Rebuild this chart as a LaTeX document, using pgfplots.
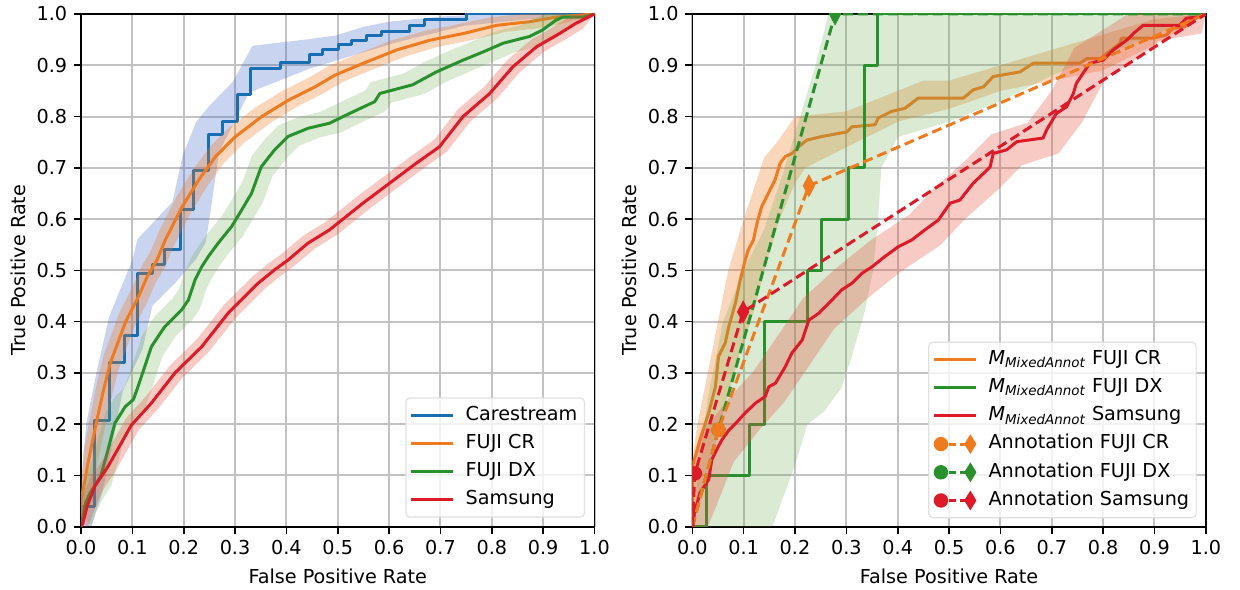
\documentclass[border=0pt]{standalone}
\usepackage{fontspec}
\setmainfont{DejaVu Sans}
\usepackage{pgfplots}
\pgfplotsset{compat=1.18}

\definecolor{cblue}{RGB}{23,110,178}
\definecolor{corange}{RGB}{240,122,30}
\definecolor{cgreen}{RGB}{40,145,45}
\definecolor{cred}{RGB}{222,25,40}
\definecolor{fblue}{RGB}{60,100,200}
\definecolor{forange}{RGB}{240,120,30}
\definecolor{fgreen}{RGB}{110,170,80}
\definecolor{fred}{RGB}{230,80,60}

\pgfplotsset{
  rocaxis/.style={
    scale only axis, width=256.75pt, height=256.35pt,
    xmin=0, xmax=1, ymin=0, ymax=1,
    xtick={0,0.1,0.2,0.3,0.4,0.5,0.6,0.7,0.8,0.9,1},
    ytick={0,0.1,0.2,0.3,0.4,0.5,0.6,0.7,0.8,0.9,1},
    xticklabels={0.0,0.1,0.2,0.3,0.4,0.5,0.6,0.7,0.8,0.9,1.0},
    yticklabels={0.0,0.1,0.2,0.3,0.4,0.5,0.6,0.7,0.8,0.9,1.0},
    tick pos=left, tick align=outside, major tick length=3.5pt,
    tick style={black, line width=0.8pt},
    axis line style={line width=0.8pt},
    grid=major, major grid style={line width=1pt, color=black!24},
    xlabel={False Positive Rate}, ylabel={True Positive Rate},
    xlabel style={at={(axis description cs:0.5,-0.096)}, anchor=center},
    ylabel style={at={(axis description cs:-0.1227,0.5)}, anchor=center},
    clip marker paths=true,
    legend cell align=left,
    legend image code/.code={\draw[##1] (0pt,0pt) -- (20.85pt,0pt);},
    legend style={anchor=south east, draw=black!12, line width=0.6pt,
      rounded corners=2pt, fill=white, fill opacity=0.8, text opacity=1,
      inner xsep=2pt, inner ysep=2.5pt, row sep=1.9pt,
      nodes={inner sep=1.5pt, text height=7pt, text depth=2.2pt},
      /tikz/every odd column/.append style={column sep=4pt}},
  },
  band/.style={draw=none, fill=#1, forget plot},
  curve/.style={color=#1, line width=1.5pt, line join=round},
  annot/.style={color=#1, line width=1.5pt, dash pattern=on 5pt off 2.5pt, forget plot},
  opmark/.style={only marks, color=#1, forget plot, mark=*, mark size=3.4pt},
  opdiam/.style={only marks, color=#1, forget plot, mark=diamond*, mark size=5.4pt,
    mark options={xscale=0.7, sharp corners}},
}

\newcommand{\annotimg}[1]{\addlegendimage{legend image code/.code={%
  \draw[#1, draw opacity=1, line width=1.5pt, dash pattern=on 3.5pt off 2pt] (2pt,0pt) -- (18pt,0pt);
  \fill[#1, fill opacity=1] (3.3pt,0pt) circle (3.3pt);
  \fill[#1, fill opacity=1, sharp corners] (18pt,4.4pt) -- (20.7pt,0pt) -- (18pt,-4.4pt) -- (15.3pt,0pt) -- cycle;}}}

\begin{document}
\fontsize{9.6pt}{11.5pt}\selectfont
\begin{tikzpicture}

% ---------------- left panel ----------------
\begin{axis}[rocaxis, at={(40.5pt,31.15pt)}, anchor=south west,
  legend style={at={(0.9815,0.0176)}}]

\addplot[band=fblue, fill opacity=0.28] coordinates {
 (0,0.07) (0.01,0.2) (0.03,0.30) (0.055,0.41) (0.1,0.52) (0.11,0.561)
 (0.178,0.633) (0.198,0.724) (0.224,0.789) (0.25,0.821) (0.295,0.867)
 (0.334,0.938) (0.444,0.951) (0.496,0.958) (0.55,0.975) (0.6,0.985)
 (0.7,0.995) (0.8,1) (1,1)
 (0.875,0.99) (0.746,0.977) (0.616,0.945) (0.486,0.906) (0.444,0.893)
 (0.379,0.867) (0.327,0.847) (0.295,0.782) (0.269,0.731) (0.25,0.6) (0.243,0.555)
 (0.224,0.522) (0.185,0.477) (0.139,0.431) (0.12,0.347) (0.081,0.263)
 (0.068,0.197) (0.042,0.068) (0.029,0.029) (0.02,0) (0,0)};
\addplot[curve=cblue] coordinates {
 (0,0) (0,0.04) (0.027,0.04) (0.027,0.207) (0.056,0.207) (0.056,0.32)
 (0.084,0.32) (0.084,0.372) (0.11,0.372) (0.11,0.494) (0.139,0.494)
 (0.139,0.511) (0.163,0.511) (0.163,0.54) (0.193,0.54) (0.193,0.618)
 (0.22,0.618) (0.22,0.695) (0.249,0.695) (0.249,0.765) (0.276,0.765)
 (0.276,0.79) (0.305,0.79) (0.305,0.843) (0.331,0.843) (0.331,0.894)
 (0.389,0.894) (0.389,0.905) (0.445,0.905) (0.445,0.921) (0.471,0.921)
 (0.471,0.93) (0.501,0.93) (0.501,0.94) (0.527,0.94) (0.527,0.949)
 (0.556,0.949) (0.556,0.958) (0.585,0.958) (0.585,0.966) (0.639,0.966)
 (0.639,0.977) (0.669,0.977) (0.669,0.99) (0.75,0.99) (0.75,1) (1,1)};
\addlegendentry{Carestream}

\addplot[band=forange, fill opacity=0.3] coordinates {
 (0,0.07) (0.001,0.09) (0.005,0.15) (0.02,0.225) (0.032,0.285) (0.045,0.337)
 (0.075,0.418) (0.1,0.467) (0.117,0.506) (0.136,0.538) (0.152,0.577)
 (0.185,0.642) (0.217,0.694) (0.25,0.74) (0.289,0.779) (0.34,0.818)
 (0.392,0.85) (0.444,0.876) (0.483,0.899) (0.538,0.922) (0.603,0.948)
 (0.668,0.967) (0.733,0.98) (0.8,0.994) (0.86,1.0) (1,1)
 (0.94,0.982) (0.89,0.972) (0.826,0.965) (0.761,0.949) (0.696,0.936)
 (0.631,0.917) (0.566,0.891) (0.511,0.868) (0.472,0.845) (0.42,0.819)
 (0.368,0.787) (0.317,0.748) (0.278,0.709) (0.245,0.663) (0.213,0.611)
 (0.18,0.546) (0.164,0.507) (0.145,0.475) (0.128,0.436) (0.103,0.387)
 (0.073,0.306) (0.06,0.254) (0.047,0.195) (0.031,0.118) (0.018,0.053)
 (0.01,0.02) (0.005,0)};
\addplot[curve=corange] coordinates {
 (0,0) (0,0.05) (0.003,0.066) (0.015,0.131) (0.031,0.208) (0.044,0.267)
 (0.057,0.319) (0.087,0.4) (0.112,0.449) (0.129,0.488) (0.148,0.52)
 (0.164,0.559) (0.197,0.624) (0.229,0.676) (0.262,0.722) (0.301,0.761)
 (0.352,0.8) (0.404,0.832) (0.456,0.858) (0.495,0.881) (0.55,0.904)
 (0.615,0.93) (0.68,0.949) (0.745,0.962) (0.81,0.978) (0.874,0.985)
 (0.926,0.994) (1,1)};
\addlegendentry{FUJI CR}

\addplot[band=fgreen, fill opacity=0.25] coordinates {
 (0,0.03) (0,0.07) (0.019,0.12) (0.032,0.166) (0.048,0.224) (0.068,0.256)
 (0.084,0.27) (0.093,0.295) (0.106,0.334) (0.119,0.373) (0.145,0.412)
 (0.165,0.432) (0.178,0.445) (0.191,0.464) (0.204,0.503) (0.217,0.529)
 (0.23,0.549) (0.249,0.575) (0.275,0.607) (0.295,0.64) (0.314,0.672)
 (0.333,0.724) (0.359,0.757) (0.385,0.783) (0.424,0.799) (0.466,0.809)
 (0.505,0.828) (0.554,0.851) (0.564,0.867) (0.628,0.884) (0.674,0.909)
 (0.726,0.932) (0.765,0.948) (0.804,0.965) (0.855,0.978) (0.881,0.991)
 (0.907,1) (1,1)
 (0.96,0.976) (0.947,0.97) (0.921,0.951) (0.895,0.938) (0.844,0.925)
 (0.805,0.908) (0.766,0.892) (0.714,0.869) (0.668,0.844) (0.604,0.827)
 (0.594,0.811) (0.545,0.788) (0.506,0.769) (0.464,0.759) (0.425,0.743)
 (0.399,0.717) (0.373,0.684) (0.354,0.632) (0.335,0.6) (0.315,0.567)
 (0.289,0.535) (0.27,0.509) (0.257,0.489) (0.244,0.463) (0.231,0.424)
 (0.218,0.405) (0.205,0.392) (0.185,0.372) (0.159,0.333) (0.146,0.294)
 (0.133,0.255) (0.124,0.23) (0.108,0.216) (0.088,0.184) (0.072,0.126)
 (0.059,0.08) (0.039,0.048) (0.03,0.029) (0.02,0)};
\addplot[curve=cgreen] coordinates {
 (0,0) (0.009,0.047) (0.018,0.066) (0.038,0.098) (0.051,0.144) (0.066,0.202)
 (0.086,0.234) (0.102,0.248) (0.111,0.273) (0.124,0.312) (0.137,0.351)
 (0.163,0.39) (0.183,0.41) (0.196,0.423) (0.209,0.442) (0.222,0.481)
 (0.235,0.507) (0.248,0.527) (0.267,0.553) (0.293,0.585) (0.313,0.618)
 (0.332,0.65) (0.351,0.702) (0.377,0.735) (0.403,0.761) (0.442,0.777)
 (0.484,0.787) (0.523,0.806) (0.572,0.829) (0.582,0.845) (0.646,0.862)
 (0.692,0.887) (0.744,0.91) (0.783,0.926) (0.822,0.943) (0.873,0.956)
 (0.899,0.969) (0.925,0.988) (0.938,0.994) (0.978,0.994) (1,1)};
\addlegendentry{FUJI DX}

\addplot[band=fred, fill opacity=0.3] coordinates {
 (0,0.01) (0,0.04) (0.001,0.054) (0.017,0.093) (0.043,0.132) (0.088,0.212)
 (0.127,0.255) (0.173,0.314) (0.225,0.365) (0.277,0.431) (0.335,0.489)
 (0.367,0.515) (0.393,0.534) (0.432,0.567) (0.474,0.593) (0.539,0.645)
 (0.591,0.684) (0.643,0.723) (0.688,0.755) (0.734,0.814) (0.786,0.859)
 (0.831,0.911) (0.877,0.95) (0.922,0.976) (0.954,0.996) (0.97,1) (1,1)
 (0.978,0.972) (0.946,0.952) (0.901,0.926) (0.855,0.887) (0.81,0.835)
 (0.758,0.79) (0.712,0.731) (0.667,0.699) (0.615,0.66) (0.563,0.621)
 (0.498,0.569) (0.456,0.543) (0.417,0.51) (0.391,0.491) (0.359,0.465)
 (0.301,0.407) (0.249,0.341) (0.197,0.29) (0.151,0.231) (0.112,0.188)
 (0.067,0.108) (0.041,0.069) (0.025,0.03) (0.015,0.003) (0.012,0)};
\addplot[curve=cred] coordinates {
 (0,0) (0.003,0.005) (0.012,0.04) (0.027,0.079) (0.053,0.118) (0.098,0.198)
 (0.137,0.241) (0.183,0.3) (0.235,0.351) (0.287,0.417) (0.345,0.475)
 (0.377,0.501) (0.403,0.52) (0.442,0.553) (0.484,0.579) (0.549,0.631)
 (0.601,0.67) (0.653,0.709) (0.698,0.741) (0.744,0.8) (0.796,0.845)
 (0.841,0.897) (0.887,0.936) (0.932,0.962) (0.964,0.982) (1,1)};
\addlegendentry{Samsung}
\end{axis}

% ---------------- right panel ----------------
\begin{axis}[rocaxis, at={(346.15pt,31.15pt)}, anchor=south west,
  legend style={at={(0.9823,0.0164)}}]

\addplot[band=forange, fill opacity=0.3] coordinates {
 (0,0.13) (0.01,0.2) (0.03,0.3) (0.05,0.4) (0.07,0.5) (0.1,0.6) (0.12,0.66)
 (0.14,0.72) (0.165,0.75) (0.2,0.8) (0.3,0.81) (0.4,0.85) (0.45,0.87)
 (0.5,0.87) (0.6,0.9) (0.7,0.93) (0.8,0.96) (0.9,0.99) (1,1)
 (0.9,0.94) (0.8,0.89) (0.7,0.87) (0.6,0.85) (0.5,0.815) (0.4,0.79)
 (0.3,0.74) (0.22,0.7) (0.2,0.67) (0.17,0.6) (0.14,0.5) (0.12,0.42)
 (0.09,0.33) (0.06,0.22) (0.03,0.1) (0.01,0.03) (0,0)};
\addplot[curve=corange] coordinates {
 (0,0) (0,0.1) (0.001,0.12) (0.015,0.17) (0.032,0.222) (0.045,0.273)
 (0.051,0.332) (0.064,0.358) (0.071,0.39) (0.084,0.436) (0.093,0.48)
 (0.103,0.52) (0.109,0.54) (0.119,0.559) (0.126,0.592) (0.135,0.624)
 (0.145,0.644) (0.161,0.676) (0.171,0.709) (0.181,0.722) (0.194,0.728)
 (0.207,0.741) (0.223,0.754) (0.252,0.761) (0.301,0.77) (0.311,0.78)
 (0.356,0.784) (0.362,0.797) (0.388,0.81) (0.414,0.816) (0.427,0.826)
 (0.44,0.836) (0.528,0.836) (0.547,0.852) (0.567,0.858) (0.586,0.878)
 (0.638,0.887) (0.664,0.904) (0.755,0.904) (0.768,0.913) (0.794,0.913)
 (0.833,0.943) (0.836,0.953) (0.897,0.953) (0.923,0.959) (0.936,0.972)
 (0.959,0.975) (0.969,0.988) (0.986,0.994) (1,1)};
\addlegendentry{{\itshape M\textsubscript{MixedAnnot}} FUJI CR}

\addplot[band=fgreen, fill opacity=0.25] coordinates {
 (0.003,0) (0.01,0.1) (0.03,0.25) (0.06,0.4) (0.1,0.5) (0.14,0.58)
 (0.18,0.7) (0.21,0.8) (0.24,0.9) (0.265,1.0) (1,1)
 (0.9,0.96) (0.8,0.92) (0.7,0.88) (0.6,0.83) (0.5,0.79) (0.4,0.76)
 (0.368,0.7) (0.362,0.6) (0.352,0.5) (0.336,0.42) (0.31,0.33) (0.29,0.27)
 (0.256,0.224) (0.224,0.2) (0.2,0.12) (0.156,0)};
\addplot[curve=cgreen] coordinates {
 (0,0) (0.028,0) (0.028,0.1) (0.112,0.1) (0.112,0.2) (0.140,0.2)
 (0.140,0.4) (0.225,0.4) (0.225,0.5) (0.252,0.5) (0.252,0.6) (0.304,0.6)
 (0.304,0.7) (0.336,0.7) (0.336,0.9) (0.361,0.9) (0.361,1.0) (1,1)};
\addlegendentry{{\itshape M\textsubscript{MixedAnnot}} FUJI DX}

\addplot[band=fred, fill opacity=0.3] coordinates {
 (0,0) (0,0.1) (0.021,0.187) (0.073,0.252) (0.119,0.303) (0.164,0.369)
 (0.216,0.446) (0.281,0.505) (0.345,0.557) (0.423,0.609) (0.472,0.661)
 (0.537,0.719) (0.582,0.765) (0.653,0.788) (0.699,0.849) (0.744,0.934)
 (0.816,0.979) (0.848,1.0) (1,1)
 (0.992,0.962) (0.908,0.948) (0.876,0.919) (0.804,0.874) (0.759,0.789)
 (0.713,0.728) (0.642,0.705) (0.597,0.659) (0.532,0.601) (0.483,0.549)
 (0.405,0.497) (0.341,0.445) (0.276,0.386) (0.224,0.309) (0.179,0.243)
 (0.133,0.192) (0.081,0.127) (0.045,0.036) (0.03,0)};
\addplot[curve=cred] coordinates {
 (0,0) (0.002,0) (0.004,0.027) (0.015,0.066) (0.032,0.092) (0.038,0.131)
 (0.051,0.157) (0.058,0.17) (0.071,0.188) (0.084,0.201) (0.103,0.222)
 (0.123,0.241) (0.142,0.254) (0.149,0.273) (0.162,0.28) (0.181,0.312)
 (0.194,0.339) (0.214,0.364) (0.227,0.403) (0.246,0.416) (0.266,0.436)
 (0.291,0.462) (0.311,0.475) (0.33,0.494) (0.35,0.507) (0.375,0.527)
 (0.401,0.546) (0.427,0.559) (0.453,0.579) (0.479,0.598) (0.502,0.631)
 (0.521,0.637) (0.547,0.67) (0.567,0.689) (0.58,0.702) (0.586,0.728)
 (0.612,0.735) (0.632,0.751) (0.683,0.758) (0.69,0.774) (0.709,0.806)
 (0.729,0.819) (0.742,0.845) (0.748,0.865) (0.774,0.904) (0.8,0.91)
 (0.82,0.93) (0.846,0.949) (0.859,0.962) (0.878,0.978) (0.949,0.978)
 (0.962,0.992) (0.986,0.994) (1,1)};
\addlegendentry{{\itshape M\textsubscript{MixedAnnot}} Samsung}

% annotation operating points
\addplot[annot=cgreen] coordinates {(0,0) (0.051,0.189) (0.278,1.0) (1,1)};
\addplot[opmark=cgreen] coordinates {(0.051,0.189)};
\addplot[opdiam=cgreen] coordinates {(0.278,1.0)};

\addplot[annot=corange] coordinates {(0,0) (0.051,0.189) (0.227,0.665) (1,1)};
\addplot[opmark=corange] coordinates {(0.051,0.189)};
\addplot[opdiam=corange] coordinates {(0.227,0.665)};

\addplot[annot=cred] coordinates {(0,0) (0.005,0.104) (0.099,0.419) (1,1)};
\addplot[opmark=cred] coordinates {(0.005,0.104)};
\addplot[opdiam=cred] coordinates {(0.099,0.419)};

\annotimg{corange}
\addlegendentry{Annotation FUJI CR}
\annotimg{cgreen}
\addlegendentry{Annotation FUJI DX}
\annotimg{cred}
\addlegendentry{Annotation Samsung}
\end{axis}

\pgfresetboundingbox
\useasboundingbox (0pt,0pt) rectangle (620pt,294.5pt);
\end{tikzpicture}
\end{document}
